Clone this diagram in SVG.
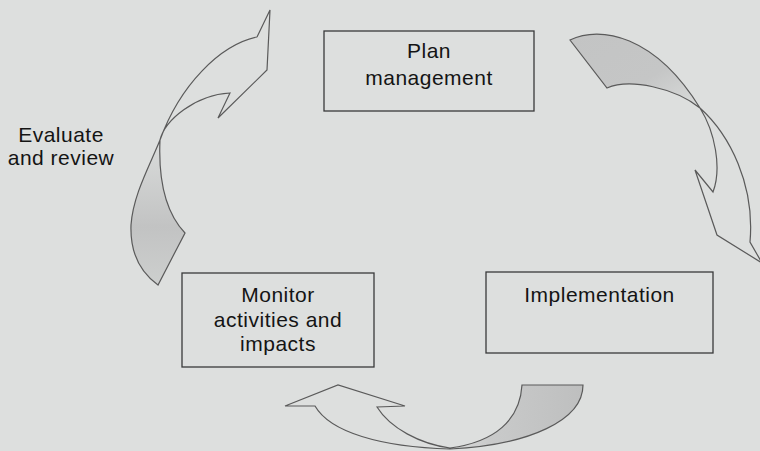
<svg xmlns="http://www.w3.org/2000/svg" width="760" height="451" viewBox="0 0 760 451">
  <defs>
    <style>
      .box { fill: none; stroke: #3a3a3a; stroke-width: 1.3; }
      .lbl { font-family: "Liberation Sans", Arial, sans-serif; font-size: 21px; letter-spacing: 0.5px; fill: #141414; text-anchor: middle; }
      .edge { fill: none; stroke: #5a5a5a; stroke-width: 1.2; stroke-linejoin: miter; }
      .shade { stroke: none; }
    </style>
    <linearGradient id="gL" x1="0" y1="0" x2="0" y2="1">
      <stop offset="0" stop-color="#dadcdb"/>
      <stop offset="0.6" stop-color="#c2c3c3"/>
      <stop offset="1" stop-color="#cdcfce"/>
    </linearGradient>
    <linearGradient id="gR" x1="0" y1="0" x2="1" y2="1">
      <stop offset="0" stop-color="#c3c4c4"/>
      <stop offset="0.6" stop-color="#c5c6c6"/>
      <stop offset="1" stop-color="#dadcdb"/>
    </linearGradient>
    <linearGradient id="gB" x1="1" y1="0" x2="0" y2="0">
      <stop offset="0" stop-color="#bebfbf"/>
      <stop offset="0.7" stop-color="#c9caca"/>
      <stop offset="1" stop-color="#dadcdb"/>
    </linearGradient>
  </defs>
  <rect x="0" y="0" width="760" height="451" fill="#dddfde"/>

  <g id="connectors">
    <g id="arrow-evaluate">
      <path class="shade" fill="url(#gL)" d="M160,140 C150,165 133,195 131,225 C130,252 140,272 158,285 L185,233 C168,215 158,185 160,140 Z"/>
      <path class="edge" d="M257,37 C220,45 180,85 160,140 C150,165 133,195 131,225 C130,252 140,272 158,285 L185,233 C168,215 158,185 160,140 C165,120 195,95 230,93 L218,118 L267,70 L270,10 L257,37"/>
    </g>
    <g id="arrow-plan-impl">
      <path class="shade" fill="url(#gR)" d="M570,40 C600,25 655,35 700,108 C675,88 630,78 607,88 Z"/>
      <path class="edge" d="M570,40 C600,25 655,35 700,108 C715,132 722,168 713,192 L695,170 L717,235 L762,263 L750,242 C755,185 730,135 700,108 C675,88 630,78 607,88 Z"/>
    </g>
    <g id="arrow-impl-monitor">
      <path class="shade" fill="url(#gB)" d="M522,385 L583,385 C583,420 530,445 450,449 C495,442 520,420 522,385 Z"/>
      <path class="edge" d="M522,385 L583,385 C583,420 530,445 450,449 C380,447 330,432 315,406 L285,406 L338,385 L405,406 L377,407 C390,428 420,444 450,448 C495,442 520,420 522,385 Z"/>
    </g>
  </g>

  <g id="node-plan">
    <rect class="box" x="324" y="31" width="210" height="80"/>
    <text class="lbl" x="429" y="58">Plan</text>
    <text class="lbl" x="429" y="85">management</text>
  </g>

  <g id="node-implementation">
    <rect class="box" x="486" y="272" width="227" height="81"/>
    <text class="lbl" x="599.5" y="302">Implementation</text>
  </g>

  <g id="node-monitor">
    <rect class="box" x="182" y="273" width="192" height="94"/>
    <text class="lbl" x="278" y="302">Monitor</text>
    <text class="lbl" x="278" y="327">activities and</text>
    <text class="lbl" x="278" y="351">impacts</text>
  </g>

  <g id="node-evaluate">
    <text class="lbl" x="61" y="142">Evaluate</text>
    <text class="lbl" x="61" y="165">and review</text>
  </g>
</svg>
